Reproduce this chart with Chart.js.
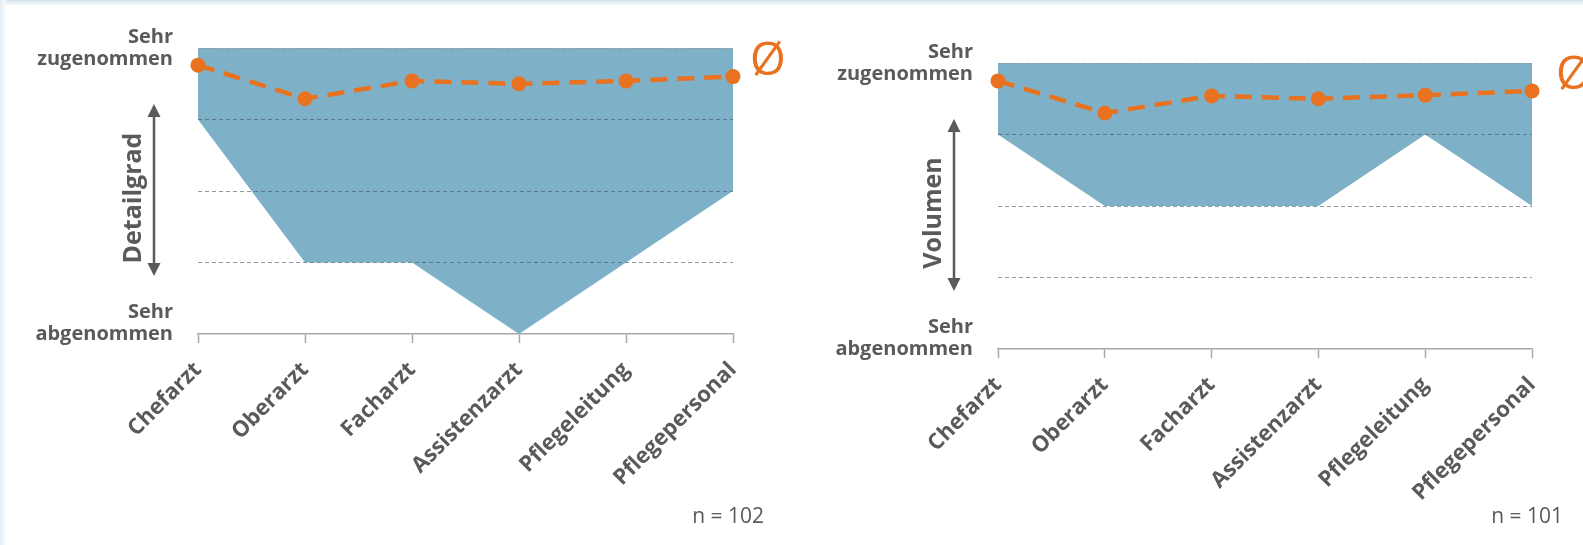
<!DOCTYPE html>
<html>
<head>
<meta charset="utf-8">
<script src="https://cdn.jsdelivr.net/npm/chart.js@4/dist/chart.umd.min.js"></script>
<style>
  html, body { margin: 0; padding: 0; background: #ffffff; width: 1583px; height: 545px; overflow: hidden; }
  .edge-top { position: absolute; left: 0; top: 0; width: 1583px; height: 5px; background: linear-gradient(to bottom, #d3e2ec, #f4f8fb); }
  .edge-left { position: absolute; left: 0; top: 0; width: 6px; height: 545px; background: linear-gradient(to right, #e4edf3, #fbfcfd); }
  canvas { position: absolute; top: 0; }
  #detailChart { left: 0; }
  #volumeChart { left: 790px; }
</style>
</head>
<body>
<div class="edge-top"></div>
<div class="edge-left"></div>
<canvas id="detailChart" width="790" height="545"></canvas>
<canvas id="volumeChart" width="793" height="545"></canvas>
<script>
// Professional groups on the x axis
const categories = ['Chefarzt', 'Oberarzt', 'Facharzt', 'Assistenzarzt', 'Pflegeleitung', 'Pflegepersonal'];

// Scale: 1 = sehr abgenommen ... 5 = sehr zugenommen
const scaleMin = 1;
const scaleMax = 5;
const topTickLabel = ['Sehr', 'zugenommen'];
const bottomTickLabel = ['Sehr', 'abgenommen', ''];

// Detailgrad: range of answers (max / min) and average
const detailMax = [5, 5, 5, 5, 5, 5];
const detailMin = [4, 2, 2, 1, 2, 3];
const detailAvg = [4.76, 4.29, 4.54, 4.50, 4.54, 4.60];

// Volumen: range of answers (max / min) and average
const volumenMax = [5, 5, 5, 5, 5, 5];
const volumenMin = [4, 3, 3, 3, 4, 3];
const volumenAvg = [4.75, 4.30, 4.54, 4.50, 4.55, 4.61];

const GREY = '#5a5a5a';
const BLUE = '#7eb1c7';
const ORANGE = '#e8721f';
const FONT = '"Open Sans", "DejaVu Sans", sans-serif';

// Side annotations: axis arrow with title, average marker, sample size
const decoPlugin = {
  id: 'deco',
  afterDatasetsDraw(chart, args, o) {
    const ctx = chart.ctx;
    const { left, right, top, bottom } = chart.chartArea;
    ctx.save();

    // double-headed arrow next to the y axis
    const ax = left - 44;
    const aTop = top + 56;
    const aBot = bottom - 58;
    const head = 13;
    ctx.strokeStyle = GREY;
    ctx.fillStyle = GREY;
    ctx.lineWidth = 2.5;
    ctx.beginPath();
    ctx.moveTo(ax, aTop + head - 1);
    ctx.lineTo(ax, aBot - head + 1);
    ctx.stroke();
    ctx.beginPath();
    ctx.moveTo(ax, aTop);
    ctx.lineTo(ax - 6.5, aTop + head);
    ctx.lineTo(ax + 6.5, aTop + head);
    ctx.closePath();
    ctx.fill();
    ctx.beginPath();
    ctx.moveTo(ax, aBot);
    ctx.lineTo(ax - 6.5, aBot - head);
    ctx.lineTo(ax + 6.5, aBot - head);
    ctx.closePath();
    ctx.fill();

    // rotated axis title
    ctx.save();
    ctx.translate(left - 64, (top + bottom) / 2 + 7);
    ctx.rotate(-Math.PI / 2);
    ctx.font = 'bold 25px ' + FONT;
    ctx.textAlign = 'center';
    ctx.textBaseline = 'middle';
    ctx.fillText(o.title, 0, 0);
    ctx.restore();

    // average symbol after the last point of the average line
    const meta = chart.getDatasetMeta(2);
    const last = meta.data[meta.data.length - 1];
    ctx.fillStyle = ORANGE;
    ctx.font = '46px ' + FONT;
    ctx.textAlign = 'center';
    ctx.textBaseline = 'middle';
    ctx.fillText('\u00D8', last.x + o.avgDx, last.y - 15);

    // sample size
    ctx.fillStyle = GREY;
    ctx.font = '21px ' + FONT;
    ctx.textAlign = 'right';
    ctx.textBaseline = 'alphabetic';
    ctx.fillText(o.n, right + 31, 523);

    ctx.restore();
  }
};

function makeChart(canvasId, maxVals, minVals, avgVals, area, title, n, avgDx) {
  const canvas = document.getElementById(canvasId);
  return new Chart(canvas, {
    type: 'line',
    data: {
      labels: categories,
      datasets: [
        {
          label: 'max',
          data: maxVals,
          borderWidth: 0,
          pointRadius: 0,
          backgroundColor: BLUE,
          fill: '+1',
          tension: 0,
          order: 3
        },
        {
          label: 'min',
          data: minVals,
          borderWidth: 0,
          pointRadius: 0,
          backgroundColor: BLUE,
          fill: false,
          tension: 0,
          order: 2
        },
        {
          label: '\u00D8',
          data: avgVals,
          borderColor: ORANGE,
          backgroundColor: ORANGE,
          borderWidth: 4.5,
          borderDash: [17, 10],
          pointRadius: 7.5,
          pointBorderWidth: 0,
          pointBackgroundColor: ORANGE,
          fill: false,
          tension: 0,
          clip: false,
          order: 1
        }
      ]
    },
    options: {
      responsive: false,
      animation: false,
      events: [],
      layout: {
        padding: { top: area.top, right: canvas.width - area.right, left: 0, bottom: 0 }
      },
      plugins: {
        legend: { display: false },
        tooltip: { enabled: false },
        deco: { title: title, n: n, avgDx: avgDx }
      },
      scales: {
        x: {
          offset: false,
          grid: {
            drawOnChartArea: false,
            drawTicks: true,
            tickLength: 9,
            tickColor: '#a8a8a8',
            tickWidth: 1.5
          },
          border: { display: true, color: '#a8a8a8', width: 1.5 },
          ticks: {
            minRotation: 45,
            maxRotation: 45,
            autoSkip: false,
            padding: 14,
            color: GREY,
            font: { family: FONT, size: 22, weight: 'bold' }
          },
          afterFit(scale) { scale.height = canvas.height - area.bottom; }
        },
        y: {
          min: scaleMin,
          max: scaleMax,
          border: { display: false, dash: [4, 3] },
          grid: {
            z: 1,
            drawTicks: false,
            lineWidth: 1,
            color(ctx) {
              const v = ctx.tick && ctx.tick.value;
              if (v === scaleMin) return 'rgba(0,0,0,0)';
              if (v === scaleMax) return 'rgba(150,150,150,0.75)';
              return 'rgba(70,85,95,0.6)';
            }
          },
          ticks: {
            stepSize: 1,
            padding: 25,
            color: GREY,
            font: { family: FONT, size: 20, weight: 'bold', lineHeight: 1.1 },
            callback(value) {
              if (value === scaleMax) return topTickLabel;
              if (value === scaleMin) return bottomTickLabel;
              return '';
            }
          },
          afterFit(scale) { scale.width = area.left; }
        }
      }
    },
    plugins: [decoPlugin]
  });
}

makeChart('detailChart', detailMax, detailMin, detailAvg,
  { left: 198, right: 733, top: 48, bottom: 334 }, 'Detailgrad', 'n = 102', 35);
makeChart('volumeChart', volumenMax, volumenMin, volumenAvg,
  { left: 208, right: 742, top: 63, bottom: 349 }, 'Volumen', 'n = 101', 42);
</script>
</body>
</html>
